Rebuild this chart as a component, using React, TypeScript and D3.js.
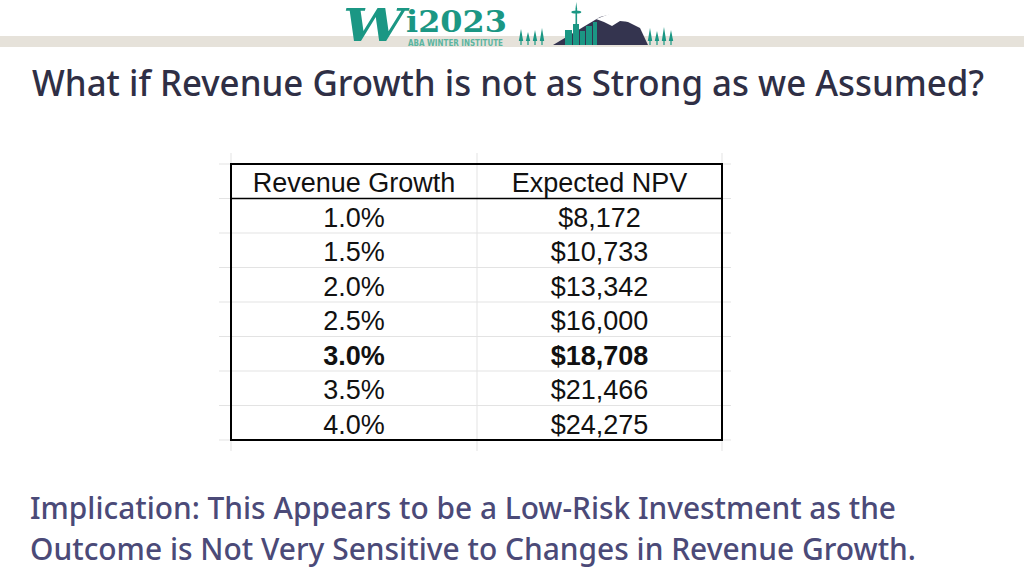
import React from "react";
import * as d3 from "d3";

const title = "What if Revenue Growth is not as Strong as we Assumed?";
const headers = ["Revenue Growth", "Expected NPV"];
const growthRates = ["1.0%", "1.5%", "2.0%", "2.5%", "3.0%", "3.5%", "4.0%"];
const npvValues = [8172, 10733, 13342, 16000, 18708, 21466, 24275];
const boldRow = "3.0%";
const implicationLines = [
  "Implication: This Appears to be a Low-Risk Investment as the",
  "Outcome is Not Very Sensitive to Changes in Revenue Growth.",
];

const W = 1024;
const H = 576;

export default function App() {
  const rows = ["header", ...growthRates];
  const y = d3.scaleBand<string>().domain(rows).range([164, 440]);
  const x = d3.scaleLinear().domain([0, 2]).range([231, 722]);
  const colEdges = [231, 477, 722];
  const colCenters = [(colEdges[0] + colEdges[1]) / 2, (colEdges[1] + colEdges[2]) / 2];
  const fmt = d3.format("$,");
  const rh = y.bandwidth();

  const teal = "#1b9784";
  const navy = "#34344f";

  const trees = (x0: number, hs: number[]) =>
    hs.map((h, i) => {
      const cx = x0 + i * 7;
      return (
        <g key={`${x0}-${i}`}>
          <path
            d={`M${cx},${43 - h} L${cx - 2.2},${41} L${cx + 2.2},${41} Z`}
            fill={teal}
          />
          <rect x={cx - 0.6} y={40} width={1.2} height={5} fill={teal} />
        </g>
      );
    });

  return (
    <svg width={W} height={H} style={{ display: "block", position: "absolute", left: 0, top: 0 }}>
      <rect x={0} y={0} width={W} height={H} fill="#ffffff" />
      {/* top band */}
      <rect x={0} y={36} width={W} height={11} fill="#e6e2da" />
      {/* logo */}
      <g>
        <text
          x={343}
          y={41}
          fontFamily="DejaVu Serif"
          fontWeight="bold"
          fontStyle="italic"
          fontSize={44}
          fill={teal}
          textLength={62}
          lengthAdjust="spacingAndGlyphs"
        >
          W
        </text>
        <text
          x={406}
          y={32}
          fontFamily="DejaVu Serif"
          fontWeight="bold"
          fontSize={29}
          fill={teal}
          textLength={101}
          lengthAdjust="spacingAndGlyphs"
        >
          i2023
        </text>
        <text
          x={408}
          y={46}
          fontFamily="DejaVu Sans Condensed"
          fontWeight="bold"
          fontSize={8.5}
          fill="#5bb5a0"
          textLength={95}
          lengthAdjust="spacingAndGlyphs"
        >
          ABA WINTER INSTITUTE
        </text>
        {trees(521, [14, 11, 13, 15])}
        {/* mountain */}
        <path d="M553,45 L600,17 L612,14 L640,28 L648,45 Z" fill={navy} />
        <path d="M596,19 L612,13 L630,22 L620,21 L612,26 L604,22 Z" fill="#ffffff" />
        {/* skyline */}
        <rect x={565} y={30} width={7} height={15} fill={teal} />
        <rect x={573} y={24} width={6} height={21} fill={teal} />
        <rect x={580} y={31} width={5} height={14} fill={teal} />
        <rect x={586} y={26} width={6} height={19} fill={teal} />
        <rect x={593} y={22} width={4} height={23} fill={teal} />
        <rect x={575.5} y={8} width={1.6} height={17} fill={teal} />
        <ellipse cx={576.3} cy={12} rx={5} ry={1.6} fill={teal} />
        <path d="M576.3,2 L577,8 L575.6,8 Z" fill={teal} />
        {trees(650, [15, 12, 16, 13])}
      </g>

      {/* title */}
      <text
        x={32}
        y={96}
        fontFamily="'Noto Sans', 'Open Sans', sans-serif"
        fontWeight={500}
        fontSize={36}
        fill="#2f2f45"
        textLength={952}
        lengthAdjust="spacingAndGlyphs"
      >
        {title}
      </text>

      {/* light spreadsheet gridlines */}
      <g stroke="#e3e3e3" strokeWidth={1}>
        {rows.map((r) => (
          <line key={`h-${r}`} x1={219} x2={731} y1={y(r)!} y2={y(r)!} />
        ))}
        <line x1={219} x2={731} y1={440} y2={440} />
        {colEdges.map((c) => (
          <line key={`v-${c}`} x1={c} x2={c} y1={153} y2={451} />
        ))}
      </g>

      {/* header underline and outer border */}
      <line x1={231} x2={722} y1={y(growthRates[0])!} y2={y(growthRates[0])!} stroke="#000" strokeWidth={1.5} />
      <rect
        x={x(0)}
        y={164}
        width={x(2) - x(0)}
        height={440 - 164}
        fill="none"
        stroke="#000"
        strokeWidth={2}
      />

      {/* header text */}
      {headers.map((h, i) => (
        <text
          key={h}
          x={colCenters[i]}
          y={y("header")! + rh - 6.5}
          textAnchor="middle"
          fontFamily="'Liberation Sans', Arial, sans-serif"
          fontSize={27}
          fill="#111"
        >
          {h}
        </text>
      ))}

      {/* body */}
      {growthRates.map((g, i) => {
        const bold = g === boldRow;
        const ty = y(g)! + rh - 6.5;
        return (
          <g key={g} fontFamily="'Liberation Sans', Arial, sans-serif" fontSize={27} fill="#111" fontWeight={bold ? "bold" : "normal"}>
            <text x={colCenters[0]} y={ty} textAnchor="middle">
              {g}
            </text>
            <text x={colCenters[1]} y={ty} textAnchor="middle">
              {fmt(npvValues[i])}
            </text>
          </g>
        );
      })}

      {/* implication */}
      {implicationLines.map((l, i) => (
        <text
          key={i}
          x={30}
          y={519 + i * 41}
          fontFamily="'Noto Sans', 'Open Sans', sans-serif"
          fontWeight={500}
          fontSize={31}
          fill="#4b4a78"
          textLength={i === 0 ? 866 : 886}
          lengthAdjust="spacingAndGlyphs"
        >
          {l}
        </text>
      ))}
    </svg>
  );
}
